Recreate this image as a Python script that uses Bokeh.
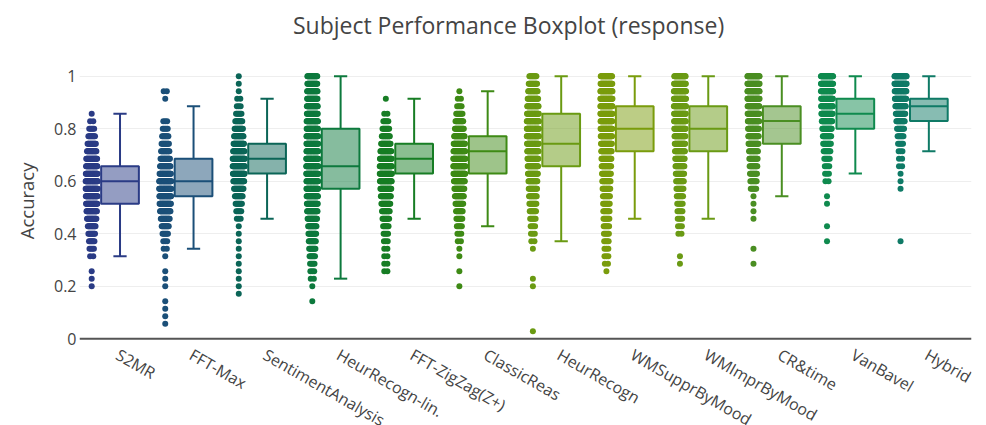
import numpy as np
from bokeh.plotting import figure
from bokeh.models import ColumnDataSource, FixedTicker, Range1d, Span, Title
from bokeh.core.properties import value
from bokeh.embed import file_html
from bokeh.resources import INLINE

title = "Subject Performance Boxplot (response)"
y_title = "Accuracy"

# Methods on the x axis
categories = ["S2MR", "FFT-Max", "SentimentAnalysis", "HeurRecogn-lin.", "FFT-ZigZag(Z+)",
              "ClassicReas", "HeurRecogn", "WMSupprByMood", "WMImprByMood", "CR&time",
              "VanBavel", "Hybrid"]

colors = ["#2a3b85", "#1b4f78", "#0b6557", "#0d793d", "#177d24", "#3e8a15",
          "#6a9a12", "#7a9c0c", "#6a9a14", "#4a8e22", "#0f8a4e", "#0f7a66"]

# Accuracy is k/35 (35 trials); counts of subjects per level, listed from k=35 down to k=0
n_trials = 35
s2mr_counts = [0, 0, 0, 0, 0, 1, 2, 5, 9, 14, 18, 24, 26, 28, 30, 30, 28, 26, 22, 18,
               12, 9, 6, 4, 2, 0, 1, 1, 1, 0, 0, 0, 0, 0, 0, 0]
fftmax_counts = [0, 0, 2, 1, 0, 0, 3, 5, 8, 11, 14, 18, 22, 26, 30, 30, 28, 26, 22, 16,
                 10, 6, 3, 2, 1, 0, 1, 1, 1, 0, 1, 1, 1, 1, 0, 0]
sentiment_counts = [1, 1, 1, 2, 3, 6, 10, 14, 18, 22, 26, 30, 30, 28, 24, 18, 12, 8, 5, 3,
                    1, 1, 1, 1, 1, 1, 1, 1, 1, 1, 0, 0, 0, 0, 0, 0]
heurlin_counts = [20, 20, 22, 22, 24, 24, 26, 26, 28, 28, 28, 30, 30, 30, 28, 28, 26, 24, 22, 18,
                  14, 12, 10, 8, 6, 4, 3, 2, 1, 0, 1, 0, 0, 0, 0, 0]
zigzag_counts = [0, 0, 0, 1, 0, 2, 5, 9, 13, 18, 24, 28, 30, 30, 28, 24, 20, 16, 12, 9,
                 6, 4, 3, 2, 2, 2, 2, 0, 0, 0, 0, 0, 0, 0, 0, 0]
classic_counts = [0, 0, 1, 2, 4, 8, 12, 16, 22, 26, 28, 30, 30, 28, 24, 20, 16, 12, 9, 7,
                  5, 3, 2, 1, 1, 0, 1, 0, 1, 0, 0, 0, 0, 0, 0, 0]
heur_counts = [10, 14, 18, 22, 26, 28, 30, 30, 30, 28, 26, 24, 22, 20, 16, 14, 12, 10, 8, 6,
               4, 3, 2, 1, 0, 0, 0, 1, 1, 0, 0, 0, 0, 0, 1, 0]
wmsuppr_counts = [26, 28, 30, 30, 30, 30, 28, 28, 26, 24, 22, 20, 18, 16, 14, 12, 10, 9, 8, 7,
                  6, 5, 4, 3, 3, 2, 1, 0, 0, 0, 0, 0, 0, 0, 0, 0]
wmimpr_counts = [26, 28, 30, 30, 30, 28, 28, 26, 24, 22, 20, 18, 16, 14, 12, 10, 8, 6, 5, 4,
                 3, 2, 0, 0, 1, 1, 0, 0, 0, 0, 0, 0, 0, 0, 0, 0]
crtime_counts = [30, 30, 30, 30, 28, 28, 26, 24, 22, 20, 16, 14, 12, 10, 8, 6, 1, 1, 1, 1,
                 0, 0, 0, 1, 0, 1, 0, 0, 0, 0, 0, 0, 0, 0, 0, 0]
vanbavel_counts = [30, 30, 30, 28, 28, 26, 22, 18, 14, 12, 9, 6, 4, 3, 2, 0, 1, 1, 0, 0,
                   1, 0, 1, 0, 0, 0, 0, 0, 0, 0, 0, 0, 0, 0, 0, 0]
hybrid_counts = [30, 30, 28, 26, 22, 18, 14, 10, 7, 5, 3, 2, 2, 1, 1, 1, 0, 0, 0, 0,
                 0, 0, 1, 0, 0, 0, 0, 0, 0, 0, 0, 0, 0, 0, 0, 0]

all_counts = [s2mr_counts, fftmax_counts, sentiment_counts, heurlin_counts, zigzag_counts,
              classic_counts, heur_counts, wmsuppr_counts, wmimpr_counts, crtime_counts,
              vanbavel_counts, hybrid_counts]

# Box statistics per method
whisker_low = [0.314, 0.343, 0.457, 0.229, 0.457, 0.429, 0.371, 0.457, 0.457, 0.543, 0.629, 0.714]
q1 = [0.514, 0.543, 0.629, 0.571, 0.629, 0.629, 0.657, 0.714, 0.714, 0.743, 0.800, 0.829]
median = [0.600, 0.600, 0.686, 0.657, 0.686, 0.714, 0.743, 0.800, 0.800, 0.829, 0.857, 0.886]
q3 = [0.657, 0.686, 0.743, 0.800, 0.743, 0.771, 0.857, 0.886, 0.886, 0.886, 0.914, 0.914]
whisker_high = [0.857, 0.886, 0.914, 1.000, 0.914, 0.943, 1.000, 1.000, 1.000, 1.000, 1.000, 1.000]

yticks = [0, 0.2, 0.4, 0.6, 0.8, 1]
ylabels = ["0", "0.2", "0.4", "0.6", "0.8", "1"]

FONT = "Open Sans"
TEXT = "#444444"

BOX_W = 0.513
CAP_W = 0.18
PTS_OFFSET = -0.385
PTS_SPAN = 0.165

# The frame runs to the top and bottom edges so the title and slanted category
# names can be drawn as text inside it.
X0, X1 = -0.551, 11.58
Y0, Y1 = -0.3302, 1.2883
p = figure(width=986, height=425, output_backend="svg", toolbar_location=None,
           x_range=Range1d(X0, X1), y_range=Range1d(Y0, Y1),
           min_border_left=79, min_border_right=15, min_border_top=0, min_border_bottom=0,
           background_fill_color="white", border_fill_color="white", outline_line_color=None)

# Strip of individual scores, spread sideways in proportion to sqrt(count)
px, py, pc = [], [], []
levels = np.arange(n_trials, -1, -1) / n_trials
for i, counts in enumerate(all_counts):
    nmax = max(counts)
    for y, n in zip(levels, counts):
        if n == 0:
            continue
        span = PTS_SPAN * np.sqrt(n / nmax)
        xs = np.linspace(-span / 2, span / 2, n) if n > 1 else np.array([0.0])
        px.extend(i + PTS_OFFSET + xs)
        py.extend([y] * n)
        pc.extend([colors[i]] * n)
p.scatter(x="x", y="y", color="c", size=6, line_width=0,
          source=ColumnDataSource(dict(x=px, y=py, c=pc)))

xi = list(range(len(categories)))
box = ColumnDataSource(dict(x=xi, lo=whisker_low, q1=q1, med=median, q3=q3, hi=whisker_high,
                            c=colors,
                            left=[i - BOX_W / 2 for i in xi], right=[i + BOX_W / 2 for i in xi],
                            cl=[i - CAP_W / 2 for i in xi], cr=[i + CAP_W / 2 for i in xi]))
# whiskers and caps
p.segment(x0="x", y0="q3", x1="x", y1="hi", line_color="c", line_width=2, source=box)
p.segment(x0="x", y0="lo", x1="x", y1="q1", line_color="c", line_width=2, source=box)
p.segment(x0="cl", y0="hi", x1="cr", y1="hi", line_color="c", line_width=2, source=box)
p.segment(x0="cl", y0="lo", x1="cr", y1="lo", line_color="c", line_width=2, source=box)
# boxes and medians
p.quad(left="left", right="right", bottom="q1", top="q3", fill_color="c", fill_alpha=0.5,
       line_color="c", line_width=2, source=box)
p.segment(x0="left", y0="med", x1="right", y1="med", line_color="c", line_width=2, source=box)

# grid and zero line
p.xgrid.grid_line_color = None
p.ygrid.grid_line_color = "#eeeeee"
p.ygrid.grid_line_width = 1
p.add_layout(Span(location=0, dimension="width", line_color="#555555", line_width=2))

# category axis: names slanted below the zero line
p.xaxis.visible = False
p.text(x=xi, y=[0] * len(xi), text=categories, angle=-0.52,
       x_offset=3, y_offset=5, text_align="left", text_baseline="top",
       text_font=value(FONT), text_font_size="16px", text_color=TEXT)

# value axis
p.yaxis.ticker = FixedTicker(ticks=yticks)
p.yaxis.major_label_overrides = dict(zip(yticks, ylabels))
p.yaxis.major_label_text_font = FONT
p.yaxis.major_label_text_font_size = "16px"
p.yaxis.major_label_text_color = TEXT
p.yaxis.major_label_standoff = 3
p.yaxis.axis_line_color = None
p.yaxis.major_tick_out = 0
p.yaxis.major_tick_in = 0
p.yaxis.minor_tick_out = 0
p.yaxis.minor_tick_in = 0

# value-axis title, placed along the 0..1 span
p.add_layout(Title(text=y_title, align="right", offset=162, vertical_align="top", standoff=20,
                   text_font=FONT, text_font_size="18.5px", text_font_style="normal",
                   text_color=TEXT), "left")

# chart title across the top
p.text(x=[5.284], y=[Y1], text=[title], y_offset=8, text_align="center", text_baseline="top",
       text_font=value(FONT), text_font_size="23px", text_color=TEXT)

open("out.html", "w").write(file_html(p, INLINE))
